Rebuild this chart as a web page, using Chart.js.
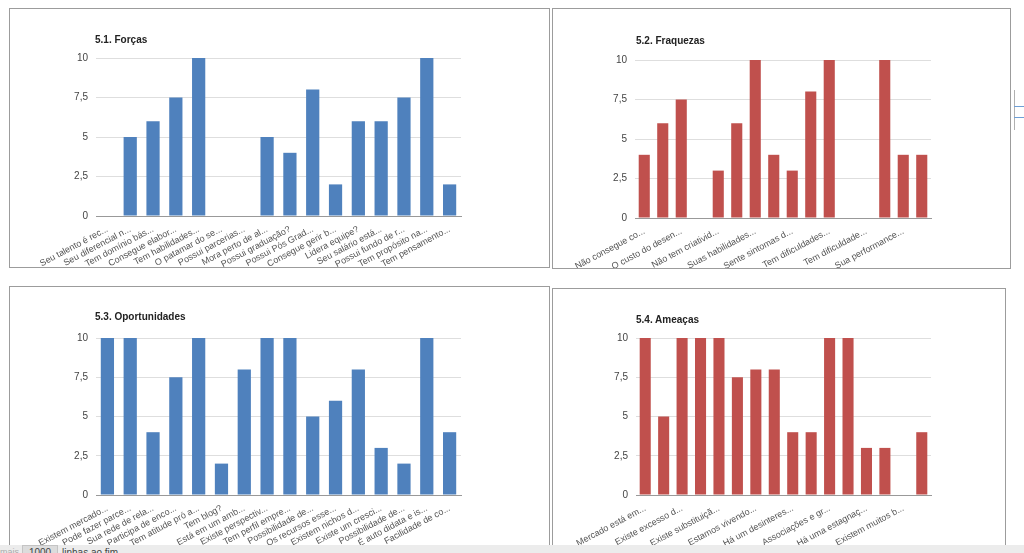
<!DOCTYPE html>
<html>
<head>
<meta charset="utf-8">
<script src="https://cdn.jsdelivr.net/npm/chart.js@4.4.0/dist/chart.umd.min.js"></script>
<style>
  body { margin: 0; width: 1024px; height: 553px; overflow: hidden; background: #fff; position: relative; font-family: "Liberation Sans", Arial, sans-serif; }
  .panel { position: absolute; border: 1px solid #9c9c9c; background: #fff; }
  .panel canvas { position: absolute; left: 0; top: 0; }
  .ttl { position: absolute; font-size: 10px; font-weight: bold; color: #222; }
  .strip { position: absolute; left: 0; top: 545px; width: 1024px; height: 20px; background: #ececec; font-size: 10px; color: #444; }
</style>
</head>
<body>
<div class="panel" id="p1" style="left:9px;top:8px;width:539px;height:258px;"><canvas id="c1" width="539" height="258"></canvas></div>
<div class="panel" id="p2" style="left:552px;top:8px;width:457px;height:259px;"><canvas id="c2" width="457" height="259"></canvas></div>
<div class="panel" id="p3" style="left:9px;top:286px;width:539px;height:258px;"><canvas id="c3" width="539" height="258"></canvas></div>
<div class="panel" id="p4" style="left:552px;top:288px;width:452px;height:256px;"><canvas id="c4" width="452" height="256"></canvas></div>

<div class="ttl" style="left:95px;top:34px;">5.1. Forças</div>
<div class="ttl" style="left:636px;top:35px;">5.2. Fraquezas</div>
<div class="ttl" style="left:95px;top:311px;">5.3. Oportunidades</div>
<div class="ttl" style="left:636px;top:314px;">5.4. Ameaças</div>

<div style="position:absolute;left:1014px;top:90px;width:1px;height:40px;background:#b0b0b0;"></div>
<div style="position:absolute;left:1014px;top:106px;width:10px;height:1px;background:#6f9fd6;"></div>
<div style="position:absolute;left:1014px;top:117px;width:10px;height:1px;background:#6f9fd6;"></div>

<div class="strip">
  <span style="position:absolute;left:0;top:2px;color:#aaa;font-size:9px;">mais</span>
  <span style="position:absolute;left:22px;top:0;width:34px;height:14px;background:#dcdcdc;border:1px solid #c4c4c4;text-align:center;line-height:14px;">1000</span>
  <span style="position:absolute;left:62px;top:2px;">linhas ao fim</span>
</div>

<script>
// 5.1 Forças
var forcasLabels = ['Seu talento é rec...', 'Seu diferencial n...', 'Tem domínio bás...', 'Consegue elabor...', 'Tem habilidades...', 'O patamar do se...', 'Possui parcerias...', 'Mora perto de al...', 'Possui graduação?', 'Possui Pós Grad...', 'Consegue gerir b...', 'Lidera equipe?', 'Seu salário está...', 'Possui fundo de r...', 'Tem propósito na...', 'Tem pensamento...'];
var forcasValues = [0, 5, 6, 7.5, 10, 0, 0, 5, 4, 8, 2, 6, 6, 7.5, 10, 2];

// 5.2 Fraquezas (only every other label is shown in the picture)
var fraquezasLabels = ['Não consegue co...', '', 'O custo do desen...', '', 'Não tem criativid...', '', 'Suas habilidades...', '', 'Sente sintomas d...', '', 'Tem dificuldades...', '', 'Tem dificuldade...', '', 'Sua performance...', ''];
var fraquezasValues = [4, 6, 7.5, 0, 3, 6, 10, 4, 3, 8, 10, 0, 0, 10, 4, 4];

// 5.3 Oportunidades
var oportunidadesLabels = ['Existem mercado...', 'Pode fazer parce...', 'Sua rede de rela...', 'Participa de enco...', 'Tem atitude pró a...', 'Tem blog?', 'Está em um amb...', 'Existe perspectiv...', 'Tem perfil empre...', 'Possibilidade de...', 'Os recursos esse...', 'Existem nichos d...', 'Existe um cresci...', 'Possibilidade de...', 'É auto didata e is...', 'Facilidade de co...'];
var oportunidadesValues = [10, 10, 4, 7.5, 10, 2, 8, 10, 10, 5, 6, 8, 3, 2, 10, 4];

// 5.4 Ameaças
var ameacasLabels = ['Mercado está em...', '', 'Existe excesso d...', '', 'Existe substituiçã...', '', 'Estamos vivendo...', '', 'Há um desinteres...', '', 'Associações e gr...', '', 'Há uma estagnaç...', '', 'Existem muitos b...', ''];
var ameacasValues = [10, 5, 10, 10, 10, 7.5, 8, 8, 4, 4, 10, 10, 3, 3, 0, 4];

var yTicks = [0, 2.5, 5, 7.5, 10];

var BLUE = '#4f81bd';
var RED = '#c0504d';
var FONT = '"Liberation Sans", Arial, sans-serif';

function makeChart(id, labels, values, color, box) {
    var ctx = document.getElementById(id);
    return new Chart(ctx, {
        type: 'bar',
        data: {
            labels: labels,
            datasets: [{
                data: values,
                backgroundColor: color,
                borderWidth: 0,
                categoryPercentage: 1,
                barPercentage: box.bar
            }]
        },
        options: {
            responsive: false,
            animation: false,
            layout: { padding: { left: 0, top: box.top, right: box.right, bottom: 0 } },
            plugins: { legend: { display: false }, tooltip: { enabled: false } },
            scales: {
                x: {
                    grid: { display: false },
                    border: { color: '#999', width: 1 },
                    ticks: {
                        autoSkip: false,
                        minRotation: 28,
                        maxRotation: 28,
                        padding: 0,
                        color: '#555',
                        font: { family: FONT, size: 9 }
                    },
                    afterFit: function(scale) { scale.height = box.bottom; }
                },
                y: {
                    min: 0,
                    max: 10,
                    afterBuildTicks: function(scale) {
                        scale.ticks = yTicks.map(function(v) { return { value: v }; });
                    },
                    grid: { color: '#dedede', drawTicks: false },
                    border: { display: false },
                    ticks: {
                        padding: 8,
                        color: '#444',
                        font: { family: FONT, size: 10 },
                        callback: function(v) { return String(v).replace('.', ','); }
                    },
                    afterFit: function(scale) { scale.width = box.left; }
                }
            }
        }
    });
}

makeChart('c1', forcasLabels, forcasValues, BLUE, { left: 86, top: 49, right: 88, bottom: 51, bar: 0.58 });
makeChart('c2', fraquezasLabels, fraquezasValues, RED, { left: 82, top: 51, right: 79, bottom: 50, bar: 0.6 });
makeChart('c3', oportunidadesLabels, oportunidadesValues, BLUE, { left: 86, top: 51, right: 88, bottom: 50, bar: 0.58 });
makeChart('c4', ameacasLabels, ameacasValues, RED, { left: 83, top: 49, right: 74, bottom: 50, bar: 0.6 });
</script>
</body>
</html>
